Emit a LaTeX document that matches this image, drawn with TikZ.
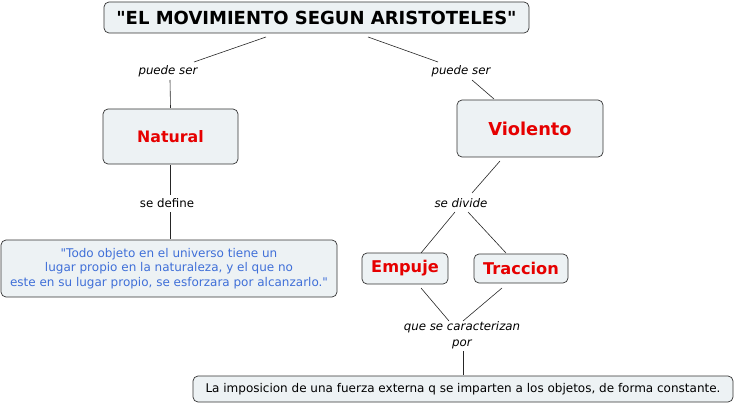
\documentclass[tikz,border=0pt]{standalone}
\usepackage{fontspec}
\setmainfont{DejaVu Sans}[Ligatures=TeXOff]
\begin{document}
\begin{tikzpicture}[x=1pt,y=-1pt,
  box/.style={draw=black!80, fill=boxfill, rounded corners=5pt, line width=0.7pt, inner sep=0pt, align=center},
  lbl/.style={font=\fontsize{11.8}{14}\selectfont\itshape, inner sep=1pt, align=center},
  conn/.style={draw=black!85, line width=0.6pt},
  concept/.style={text=conceptred, font=\bfseries}
]
\definecolor{boxfill}{HTML}{EDF2F4}
\definecolor{conceptred}{HTML}{E60000}
\definecolor{quoteblue}{HTML}{3F6FD8}
\useasboundingbox (0,0) rectangle (735,406);
% boxes
\node[box, minimum width=425pt, minimum height=31pt, font=\fontsize{18}{21}\selectfont\bfseries] (title) at (316.5,17.5) {"EL MOVIMIENTO SEGUN ARISTOTELES"};
\node[box, minimum width=135pt, minimum height=55pt, concept, font=\fontsize{15.8}{18}\selectfont\bfseries] (natural) at (170.5,136.5) {Natural};
\node[box, minimum width=146pt, minimum height=57pt, concept, font=\fontsize{17.8}{21}\selectfont\bfseries] (violento) at (530,128.5) {Violento};
\node[box, minimum width=336pt, minimum height=57pt, text=quoteblue, font=\fontsize{12}{14.5}\selectfont] (quote) at (169,268.5) {"Todo objeto en el universo tiene un\\lugar propio en la naturaleza, y el que no\\este en su lugar propio, se esforzara por alcanzarlo."};
\node[box, minimum width=86pt, minimum height=31pt, concept, font=\fontsize{16.2}{19}\selectfont\bfseries] (empuje) at (405,268.5) {Empuje};
\node[box, minimum width=94pt, minimum height=29pt, concept, font=\fontsize{16.2}{19}\selectfont\bfseries] (traccion) at (521,268.5) {Traccion};
\node[box, minimum width=540pt, minimum height=26pt, font=\fontsize{12}{14}\selectfont] (bottom) at (463,389) {La imposicion de una fuerza externa q se imparten a los objetos, de forma constante.};
% labels
\node[lbl] (ps1) at (168,71) {puede ser};
\node[lbl] (ps2) at (461,71) {puede ser};
\node[lbl, font=\fontsize{11.8}{14}\selectfont] (sdef) at (167,203) {se define};
\node[lbl] (sdiv) at (461,203) {se divide};
\node[lbl, font=\fontsize{11.8}{16}\selectfont\itshape] (qsc) at (462,335) {que se caracterizan\\por};
% connector points
\coordinate (t1) at (266,37); \coordinate (p1a) at (194,62);
\coordinate (p1b) at (170,80); \coordinate (n1) at (170.5,108);
\coordinate (t2) at (368,37); \coordinate (p2a) at (438,62);
\coordinate (p2b) at (472,80); \coordinate (v1) at (494,99);
\coordinate (n2) at (170.5,165); \coordinate (sd1) at (170.5,195);
\coordinate (sd2) at (170.5,212); \coordinate (q1) at (170.5,239);
\coordinate (v2) at (500,161); \coordinate (dv1) at (472,193);
\coordinate (dv2) at (455,212); \coordinate (e1) at (421,253);
\coordinate (dv3) at (468,212); \coordinate (tr1) at (506,253);
\coordinate (e2) at (421,288); \coordinate (c1) at (449,321);
\coordinate (tr2) at (502,288); \coordinate (c2) at (463,321);
\coordinate (c3) at (463,351); \coordinate (b1) at (463,375);
\draw[conn] (t1) -- (p1a); \draw[conn] (p1b) -- (n1);
\draw[conn] (t2) -- (p2a); \draw[conn] (p2b) -- (v1);
\draw[conn] (n2) -- (sd1); \draw[conn] (sd2) -- (q1);
\draw[conn] (v2) -- (dv1);
\draw[conn] (dv2) -- (e1); \draw[conn] (dv3) -- (tr1);
\draw[conn] (e2) -- (c1); \draw[conn] (tr2) -- (c2);
\draw[conn] (c3) -- (b1);
\end{tikzpicture}
\end{document}
